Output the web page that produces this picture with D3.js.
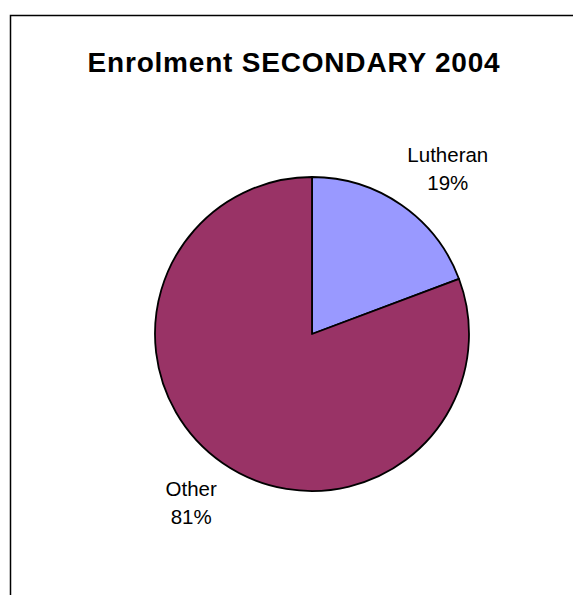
<!DOCTYPE html>
<html><head><meta charset="utf-8">
<script src="https://cdn.jsdelivr.net/npm/d3@7"></script>
<style>html,body{margin:0;padding:0;background:#fff;}svg{display:block;}</style>
</head><body>
<svg id="chart" width="573" height="595"></svg>
<script>
const categories = ["Lutheran", "Other"];
const values = [19.3, 80.7];
const colors = ["#9999FF", "#993366"];
const title = "Enrolment SECONDARY 2004";

const svg = d3.select("#chart");
const cx = 312, cy = 334, R = 157;

// frame (extends beyond right/bottom edge)
svg.append("rect").attr("x", 10.5).attr("y", 15.5).attr("width", 580).attr("height", 600)
  .attr("fill", "#fff").attr("stroke", "#000").attr("stroke-width", 1.5);

svg.append("text").attr("x", 294).attr("y", 72).attr("text-anchor", "middle")
  .attr("font-family", "Liberation Sans, Arial, sans-serif").attr("font-weight", "bold")
  .attr("font-size", 28).attr("letter-spacing", 0.8).attr("fill", "#000").text(title);

const pie = d3.pie().sort(null).value(d => d)(values);
const arc = d3.arc().innerRadius(0).outerRadius(R);
const g = svg.append("g").attr("transform", `translate(${cx},${cy})`);
g.selectAll("path").data(pie).enter().append("path")
  .attr("d", arc).attr("fill", (d, i) => colors[i])
  .attr("stroke", "#000").attr("stroke-width", 1.8).attr("stroke-linejoin", "round");

const total = d3.sum(values);
const labelArc = d3.arc().innerRadius(212).outerRadius(212);
const nudge = [[15, 14], [0, 0]];
pie.forEach((d, i) => {
  const [x, y] = labelArc.centroid(d);
  const t = g.append("text").attr("text-anchor", "middle")
    .attr("font-family", "Liberation Sans, Arial, sans-serif").attr("font-size", 20.5).attr("fill", "#000")
    .attr("transform", `translate(${x + nudge[i][0]},${y + nudge[i][1]})`);
  t.append("tspan").attr("x", 0).attr("y", -12).text(categories[i]);
  t.append("tspan").attr("x", 0).attr("y", 16).text(Math.round(values[i] / total * 100) + "%");
});
</script>
</body></html>
